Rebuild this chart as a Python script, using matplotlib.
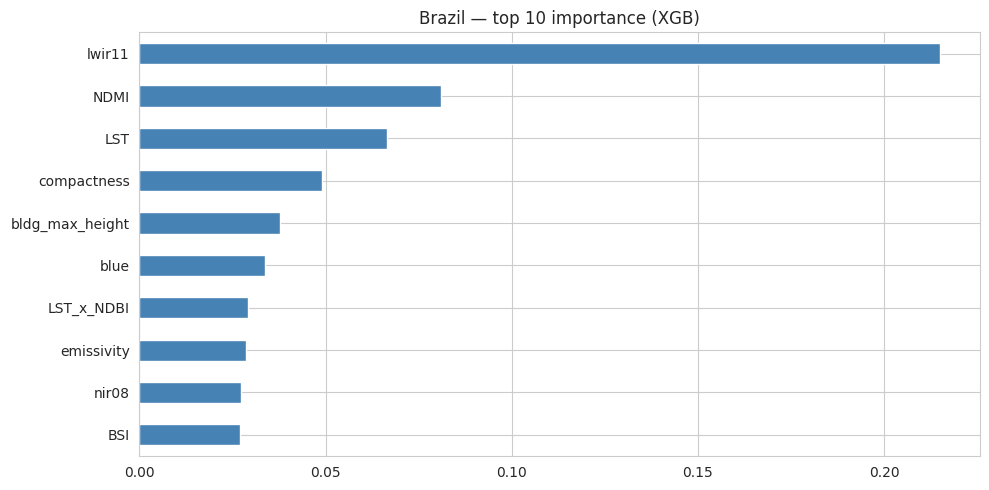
import matplotlib
matplotlib.use("Agg")
import matplotlib.pyplot as plt
import seaborn as sns
import pandas as pd

sns.set_style("whitegrid")

# top 10 feature importances
features = ["lwir11", "NDMI", "LST", "compactness", "bldg_max_height",
            "blue", "LST_x_NDBI", "emissivity", "nir08", "BSI"]
importance = [0.2151, 0.0810, 0.0665, 0.0490, 0.0377,
              0.0337, 0.0291, 0.0286, 0.0272, 0.0269]

imp = pd.Series(importance, index=features).sort_values()

fig, ax = plt.subplots(figsize=(9.89, 4.9), dpi=100)
imp.plot(kind="barh", ax=ax, color="steelblue")
ax.set_title("Brazil \u2014 top 10 importance (XGB)")
ax.set_ylabel("")
fig.subplots_adjust(left=0.141, right=0.9912, top=0.9337, bottom=0.0694)
plt.savefig("out.png")
